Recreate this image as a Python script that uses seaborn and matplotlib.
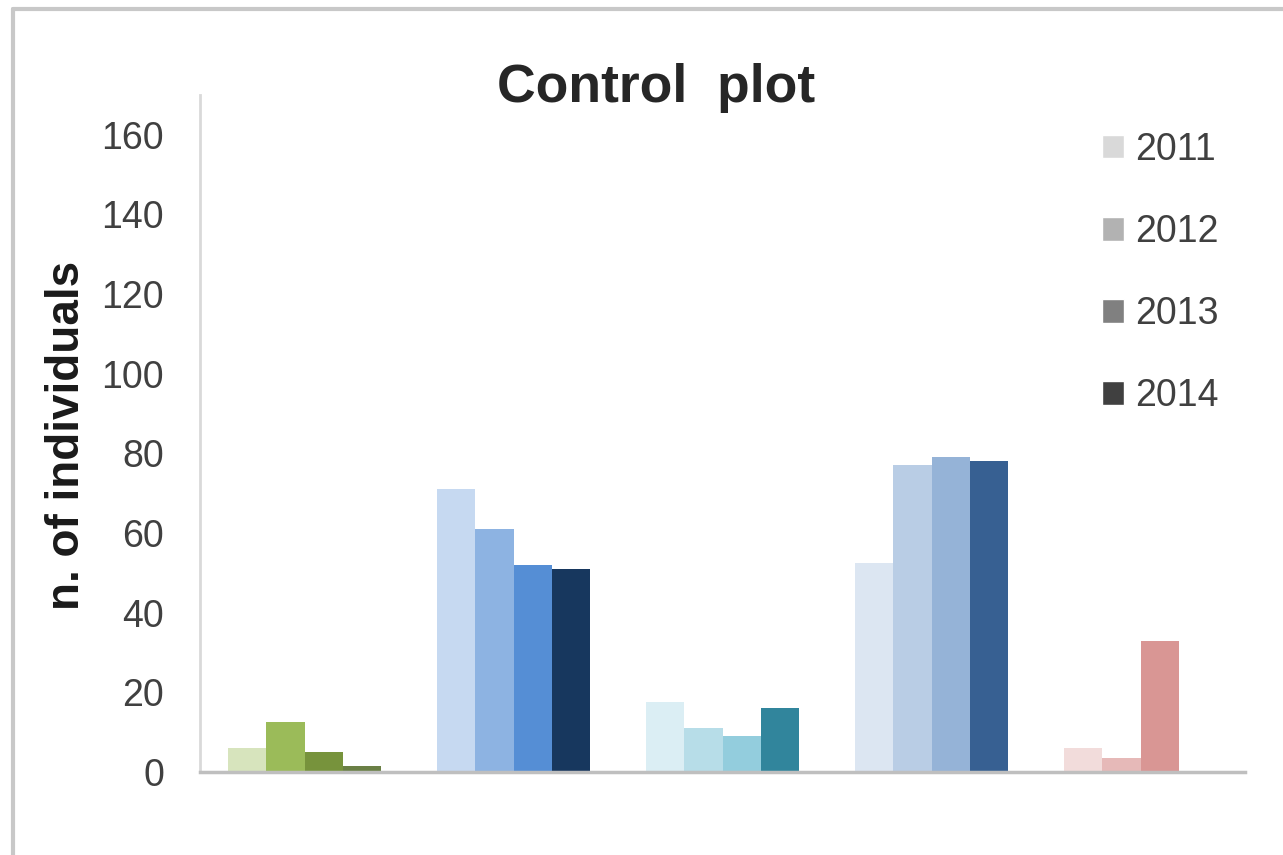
import pandas as pd
import numpy as np
import matplotlib.pyplot as plt
from matplotlib.lines import Line2D
import seaborn as sns

# data
groups = ['G1', 'G2', 'G3', 'G4', 'G5']
years = ['2011', '2012', '2013', '2014']
v2011 = [6, 71, 17.5, 52.5, 6]
v2012 = [12.5, 61, 11, 77, 3.5]
v2013 = [5, 52, 9, 79, 33]
v2014 = [1.5, 51, 16, 78, 0]

legend_grays = ['#d9d9d9', '#b2b2b2', '#808080', '#404040']
bar_colors = [
    ['#d7e4bd', '#9bbb59', '#77933c', '#6a7f45'],
    ['#c6d9f1', '#8db3e2', '#558ed5', '#17375e'],
    ['#dbeef4', '#b7dde8', '#93cddd', '#31859c'],
    ['#dce6f2', '#b9cde5', '#95b3d7', '#376092'],
    ['#f2dcdb', '#e6b9b8', '#d99694', '#d99694'],
]

df = pd.DataFrame({'group': groups * 4,
                   'year': np.repeat(years, len(groups)),
                   'value': v2011 + v2012 + v2013 + v2014})

sns.set_style('white')
plt.rcParams['font.family'] = ['Liberation Sans', 'DejaVu Sans']

fig = plt.figure(figsize=(12.83, 8.55), dpi=100)
ax = fig.add_axes([200/1283, 1-772/855, 1045/1283, 677/855])

sns.barplot(data=df, x='group', y='value', hue='year', hue_order=years,
            palette=legend_grays, width=0.73, gap=0, saturation=1, ax=ax)

# each bar gets its own group colour
for j, cont in enumerate(ax.containers):
    for i, bar in enumerate(cont):
        bar.set_facecolor(bar_colors[i][j])
        bar.set_edgecolor('none')

ax.set_ylim(0, 170)
ax.set_yticks(range(0, 161, 20))
ax.set_xticks([])
ax.set_xlabel('')
ax.tick_params(axis='y', length=0, pad=26, labelsize=27, labelcolor='#404040')

for s in ['top', 'right']:
    ax.spines[s].set_visible(False)
ax.spines['left'].set_color('#d9d9d9')
ax.spines['left'].set_linewidth(2)
ax.spines['bottom'].set_color('#bfbfbf')
ax.spines['bottom'].set_linewidth(2.5)

ax.set_ylabel('n. of individuals', fontsize=33, fontweight='bold', color='#1a1a1a')
ax.yaxis.set_label_coords(-0.106, 0.497)

ax.set_title('Control  plot', fontsize=38.5, fontweight='bold',
             x=0.4368, y=0.9895, pad=0)

sns.move_legend(ax, 'upper left', bbox_to_anchor=(1083/1283, 1-113/855),
                bbox_transform=fig.transFigure, frameon=False, title=None,
                fontsize=27, handlelength=0.6, handleheight=0.6,
                handletextpad=0.3, labelspacing=1.23, borderpad=0,
                labelcolor='#404040')

# outer chart border
fig.add_artist(Line2D([13/1283, 13/1283], [0, 1-9/855], color='#c8c8c8', lw=3))
fig.add_artist(Line2D([13/1283, 1], [1-9/855, 1-9/855], color='#c8c8c8', lw=3))

fig.savefig('out.png', dpi=100)
